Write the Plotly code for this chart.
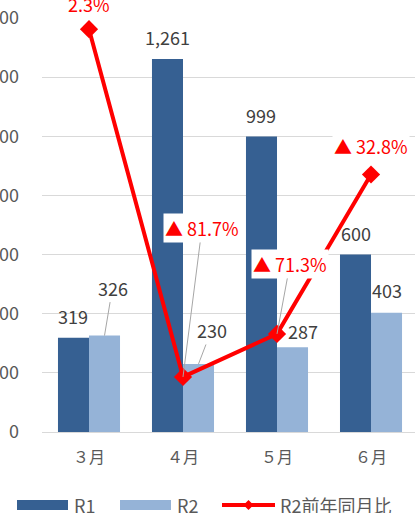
import plotly.graph_objects as go

months = ["３月", "４月", "５月", "６月"]
r1 = [319, 1261, 999, 600]
r2 = [326, 230, 287, 403]
yoy = [2.3, -81.7, -71.3, -32.8]
yoy_labels = ["2.3%", "▲ 81.7%", "▲ 71.3%", "▲ 32.8%"]
y_ticks = [0, 200, 400, 600, 800, 1000, 1200, 1400]

C1 = "#366092"
C2 = "#95B3D7"
RED = "#FF0000"
FONT = "Noto Sans CJK JP"
W, H = 415, 513
L, T, B = 42, 18, 81
PW, PH = W - L, H - T - B

def px(x):
    return (x - L) / PW

def py(y):
    return (T + PH - y) / PH

xs = list(range(len(months)))
fig = go.Figure()
fig.add_trace(go.Bar(x=xs, y=r1, name="R1", marker=dict(color=C1, line=dict(width=0))))
fig.add_trace(go.Bar(x=xs, y=r2, name="R2", marker=dict(color=C2, line=dict(width=0))))
fig.add_trace(go.Scatter(x=xs, y=yoy, name="R2前年同月比", yaxis="y2", mode="lines+markers",
                         line=dict(color=RED, width=4),
                         marker=dict(symbol="diamond", size=14, color=RED)))

ann = []
off = 0.165
lab_font = dict(family=FONT, size=18, color="#404040")
# R1 labels
for i, v in enumerate(r1):
    ann.append(dict(x=i - off, y=v, xref="x", yref="y", text=f"{v:,}", showarrow=False,
                    yshift=22, font=lab_font))
# R2 labels (offsets in px: dx, dy, leader)
r2_off = [(8, -48, True), (13, -34, True), (10, -16, False), (0, -23, False)]
for i, v in enumerate(r2):
    dx, dy, arrow = r2_off[i]
    if arrow:
        ann.append(dict(x=i + off, y=v, xref="x", yref="y", text=f"{v:,}", showarrow=True,
                        ax=dx, ay=dy, arrowhead=0, arrowwidth=1, arrowcolor="#A6A6A6",
                        font=lab_font, standoff=0))
    else:
        ann.append(dict(x=i + off, y=v, xref="x", yref="y", text=f"{v:,}", showarrow=False,
                        xshift=dx, yshift=-dy, font=lab_font))
# YoY labels
red_font = dict(family=FONT, size=18, color=RED)
yoy_off = [(0, -25, False), (19, -149, True), (13, -70, True), (0, -28, False)]
for i, v in enumerate(yoy):
    dx, dy, arrow = yoy_off[i]
    if arrow:
        ann.append(dict(x=i, y=v, xref="x", yref="y2", text=yoy_labels[i], showarrow=True,
                        ax=dx, ay=dy, arrowhead=0, arrowwidth=1, arrowcolor="#A6A6A6",
                        font=red_font, bgcolor="white", borderpad=1, standoff=0))
    else:
        ann.append(dict(x=i, y=v, xref="x", yref="y2", text=yoy_labels[i], showarrow=False,
                        xshift=dx, yshift=-dy, font=red_font,
                        bgcolor="white" if i > 0 else None, borderpad=1))

# manual legend
shapes = []
leg_y = 505
shapes.append(dict(type="rect", xref="paper", yref="paper", x0=px(17), x1=px(68),
                   y0=py(510), y1=py(500), fillcolor=C1, line=dict(width=0)))
shapes.append(dict(type="rect", xref="paper", yref="paper", x0=px(120), x1=px(171),
                   y0=py(510), y1=py(500), fillcolor=C2, line=dict(width=0)))
shapes.append(dict(type="line", xref="paper", yref="paper", x0=px(222), x1=px(275),
                   y0=py(leg_y), y1=py(leg_y), line=dict(color=RED, width=4)))
dcx, dsz = 248.5, 5
shapes.append(dict(type="path", xref="paper", yref="paper",
                   path=f"M{px(dcx - dsz)},{py(leg_y)} L{px(dcx)},{py(leg_y - dsz)} "
                        f"L{px(dcx + dsz)},{py(leg_y)} L{px(dcx)},{py(leg_y + dsz)} Z",
                   fillcolor=RED, line=dict(width=0)))
leg_font = dict(family=FONT, size=18, color="#595959")
for xpos, txt in [(72, "R1"), (175, "R2"), (278, "R2前年同月比")]:
    ann.append(dict(x=px(xpos), y=py(leg_y), xref="paper", yref="paper", text=txt,
                    showarrow=False, xanchor="left", yanchor="middle", font=leg_font))

fig.update_layout(
    width=W, height=H,
    margin=dict(l=L, r=0, t=T, b=B, autoexpand=False),
    plot_bgcolor="white", paper_bgcolor="white",
    barmode="group", bargap=0.34, bargroupgap=0,
    showlegend=False,
    font=dict(family=FONT, color="#595959"),
    xaxis=dict(range=[-0.5, 3.468], tickvals=xs, ticktext=months, showgrid=False,
               showline=False, zeroline=False, ticks="", tickfont=dict(size=16, color="#595959"),
               ticklabelstandoff=14, automargin=False),
    yaxis=dict(range=[0, 1400], tickvals=y_ticks, ticktext=[f"{v:,}" for v in y_ticks],
               showgrid=True, gridcolor="#D9D9D9", gridwidth=1, zeroline=True,
               zerolinecolor="#D9D9D9", zerolinewidth=1, ticks="",
               tickfont=dict(size=18, color="#595959"), ticklabelstandoff=22, automargin=False),
    yaxis2=dict(range=[-95, 5], overlaying="y", side="right", visible=False),
    annotations=ann, shapes=shapes,
)
fig.write_html("out.html", config={"displayModeBar": False},
               post_script="document.body.style.margin='0';document.body.style.overflow='hidden';")
